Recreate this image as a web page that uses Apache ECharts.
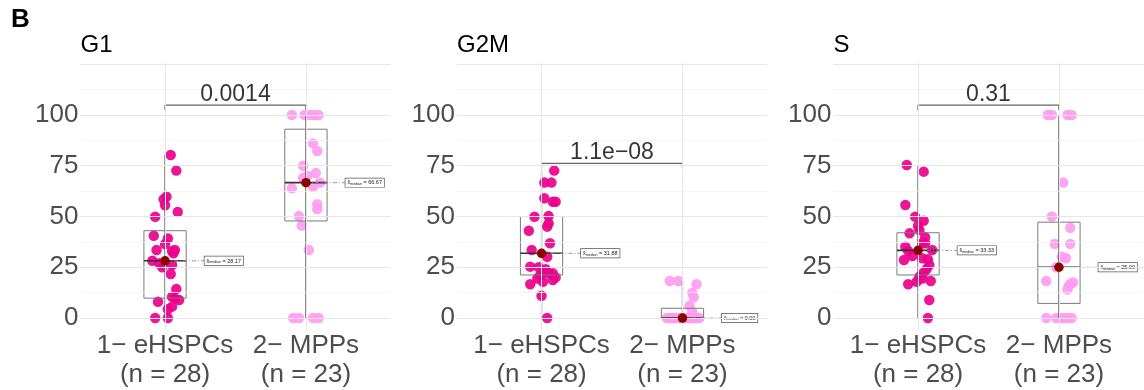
<!DOCTYPE html>
<html>
<head>
<meta charset="utf-8">
<title>Cell-cycle phase by population</title>
<script src="https://cdn.jsdelivr.net/npm/echarts@6/dist/echarts.min.js"></script>
<style>
  html, body { margin: 0; padding: 0; background: #ffffff; }
  #chart { width: 1144px; height: 390px; }
</style>
</head>
<body>
<div id="chart"></div>
<script>
// ---- data -------------------------------------------------------------
const panelTitles = ['G1', 'G2M', 'S'];
const groupLabels = ['1\u2212 eHSPCs', '2\u2212 MPPs'];
const groupCounts = [28, 23];
const pValues = ['0.0014', '1.1e\u221208', '0.31'];
const gridValues = [0, 12.5, 25, 37.5, 50, 62.5, 75, 87.5, 100, 112.5, 125];
const tickValues = [0, 25, 50, 75, 100];

// % of cells per sample; jitter = horizontal spread of each dot (axis units)
const g1Ehspc = [80.3, 72.6, 59.8, 58.5, 55.5, 52.2, 49.9, 40.5, 39.2, 36.4, 33.5, 33.5, 33.0, 31.9,
  28.2, 27.0, 26.1, 25.0, 21.7, 14.3, 10.5, 9.5, 8.9, 8.0, 5.6, 4.3, 0, 0];
const g1EhspcJitter = [0.04, 0.08, 0.01, -0.01, 0, 0.09, -0.07, -0.08, 0.02, 0, -0.06, 0.07, 0.05, 0.06,
  -0.09, -0.04, 0.05, -0.02, 0.04, 0.08, 0.05, 0.07, 0.10, -0.05, 0.05, 0.02, -0.07, 0.02];
const g1Mpp = [100, 100, 100, 100, 100, 86.0, 82.3, 75.0, 71.4, 70.0, 69.0, 66.67, 64.7, 63.9,
  56.0, 53.7, 50.2, 45.5, 33.5, 0, 0, 0, 0];
const g1MppJitter = [-0.10, -0.01, 0.03, 0.06, 0.09, 0.05, 0.08, -0.02, 0.07, 0.01, -0.02, 0.10, 0.05, -0.10,
  0.08, 0.08, -0.05, -0.03, 0.02, -0.09, -0.05, 0.05, 0.09];

const g2mEhspc = [72.6, 66.7, 66.7, 59.0, 57.3, 57.3, 50.2, 49.9, 46.6, 45.0, 43.0, 36.8, 33.5, 30.2,
  25.3, 25.0, 24.0, 22.8, 22.0, 22.0, 21.0, 20.0, 19.5, 18.7, 17.9, 16.6, 11.0, 0];
const g2mEhspcJitter = [0.09, 0.02, 0.07, 0.02, 0.08, 0.10, 0.05, -0.05, 0.05, 0.04, -0.09, 0.06, -0.07, 0.04,
  -0.08, -0.02, 0.03, 0.01, 0.05, 0.08, -0.01, 0.10, -0.03, 0.08, 0.01, -0.08, 0, 0.04];
const g2mMpp = [18.2, 18.2, 16.6, 12.5, 10.2, 6.1, 3.1, 0, 0, 0, 0, 0, 0, 0, 0, 0, 0, 0, 0, 0, 0, 0, 0];
const g2mMppJitter = [-0.09, -0.03, 0.10, 0.07, 0.08, 0.05, 0.07, -0.11, -0.09, -0.07, -0.06, -0.04, -0.02,
  -0.01, 0.01, 0.02, 0.04, 0.05, 0.06, 0.08, 0.09, 0.10, 0.12];

const sEhspc = [75.4, 72.1, 55.7, 49.9, 47.9, 45.3, 43.3, 41.7, 39.8, 36.8, 36.8, 35.1, 33.5, 33.0,
  30.5, 29.4, 28.9, 28.6, 26.1, 24.0, 22.3, 20.3, 19.5, 18.2, 17.9, 16.6, 8.9, 0];
const sEhspcJitter = [-0.08, 0.04, -0.09, -0.02, 0.04, 0, 0.01, -0.06, 0.05, 0.05, 0.03, -0.09, 0.10, -0.07,
  -0.04, 0.03, 0.07, -0.10, 0.08, 0.06, 0.04, 0.01, 0.03, 0.09, -0.01, -0.07, 0.08, 0.07];
const sMpp = [100, 100, 100, 100, 66.7, 50.0, 44.5, 36.5, 36.5, 30.2, 29.4, 25.0, 18.2, 17.5, 16.7, 15.8,
  14.1, 0, 0, 0, 0, 0, 0];
const sMppJitter = [-0.08, -0.05, 0.06, 0.09, 0.03, -0.05, 0.08, -0.03, 0.08, 0.02, 0.05, -0.02, -0.09, 0.10,
  0.08, 0.07, 0.06, -0.09, -0.02, 0.01, 0.03, 0.06, 0.09];

// box summaries: [lower whisker, Q1, median, Q3, upper whisker]
const g1Boxes = [[0, 9.8, 28.17, 43.0, 80.3], [0, 47.8, 66.67, 93.0, 100]];
const g2mBoxes = [[0, 21.2, 31.88, 50.0, 72.6], [0, 0, 0.00, 4.8, 18.2]];
const sBoxes = [[0, 21.2, 33.33, 42.0, 75.4], [0, 7.2, 25.00, 47.2, 100]];

// comparison bracket height per panel
const bracketLevels = [104.9, 76.2, 104.9];

// ---- layout / style ---------------------------------------------------
const panels = [
  { pts: [[g1Ehspc, g1EhspcJitter], [g1Mpp, g1MppJitter]], boxes: g1Boxes },
  { pts: [[g2mEhspc, g2mEhspcJitter], [g2mMpp, g2mMppJitter]], boxes: g2mBoxes },
  { pts: [[sEhspc, sEhspcJitter], [sMpp, sMppJitter]], boxes: sBoxes }
];
const gridLefts = [80.5, 457, 833.5];
const groupColors = ['#ec008c', '#ff9cf0'];
const FONT = '"Liberation Sans", Arial, Helvetica, sans-serif';
const BOX_HALF = 0.15;
const LABEL_SHIFT = 0.28;

const chart = echarts.init(document.getElementById('chart'), null, { renderer: 'canvas' });

const grids = [], xAxes = [], yAxes = [], series = [], titles = [];

titles.push({ text: 'B', left: 11, top: 7, padding: 0,
  textStyle: { fontFamily: FONT, fontSize: 26, fontWeight: 'bold', color: '#000' } });

panels.forEach((panel, p) => {
  grids.push({ left: gridLefts[p], top: 63, width: 310, height: 267, containLabel: false });
  titles.push({ text: panelTitles[p], left: gridLefts[p], top: 33, padding: 0,
    textStyle: { fontFamily: FONT, fontSize: 24, fontWeight: 'normal', color: '#000' } });

  xAxes.push({
    type: 'value', gridIndex: p, min: 0.4, max: 2.6,
    axisLine: { show: false }, axisTick: { show: false }, splitLine: { show: false },
    axisLabel: {
      customValues: [1, 2], margin: 1,
      fontFamily: FONT, fontSize: 26, color: '#4d4d4d', lineHeight: 29,
      formatter: v => groupLabels[Math.round(v) - 1] + '\n(n = ' + groupCounts[Math.round(v) - 1] + ')'
    }
  });
  yAxes.push({
    type: 'value', gridIndex: p, min: -5.9, max: 125.6,
    axisLine: { show: false }, axisTick: { show: false }, splitLine: { show: false },
    axisLabel: { customValues: tickValues, margin: 2, fontFamily: FONT, fontSize: 26, color: '#4d4d4d' }
  });

  // background grid lines
  const gl = gridValues.map(v => ({
    yAxis: v,
    lineStyle: { color: v % 25 === 0 ? '#e6e6e6' : '#f1f1f1', width: v % 25 === 0 ? 1 : 0.8, type: 'solid' }
  }));
  [1, 2].forEach(x => gl.push({ xAxis: x, lineStyle: { color: '#e6e6e6', width: 1, type: 'solid' } }));
  series.push({
    type: 'scatter', xAxisIndex: p, yAxisIndex: p, data: [], silent: true, z: 0,
    markLine: { silent: true, symbol: 'none', label: { show: false }, animation: false, data: gl }
  });

  // jittered sample dots
  panel.pts.forEach(([vals, jit], g) => {
    series.push({
      type: 'scatter', xAxisIndex: p, yAxisIndex: p, z: 2,
      symbolSize: 10.5,
      itemStyle: { color: groupColors[g], opacity: 0.92 },
      data: vals.map((v, i) => [g + 1 + jit[i], v])
    });
  });

  // boxes + whiskers
  series.push({
    type: 'custom', xAxisIndex: p, yAxisIndex: p, z: 3, silent: true,
    data: panel.boxes.map((b, g) => [g + 1].concat(b)),
    renderItem: (params, api) => {
      const x = api.value(0);
      const cx = api.coord([x, 0])[0];
      const l = api.coord([x - BOX_HALF, 0])[0];
      const r = api.coord([x + BOX_HALF, 0])[0];
      const yLo = api.coord([x, api.value(1)])[1];
      const yQ1 = api.coord([x, api.value(2)])[1];
      const yMed = api.coord([x, api.value(3)])[1];
      const yQ3 = api.coord([x, api.value(4)])[1];
      const yHi = api.coord([x, api.value(5)])[1];
      return {
        type: 'group', children: [
          { type: 'line', shape: { x1: cx, y1: yLo, x2: cx, y2: yHi },
            style: { stroke: '#5a5a5a', lineWidth: 1.3 } },
          { type: 'rect', shape: { x: l, y: yQ3, width: r - l, height: yQ1 - yQ3 },
            style: { fill: 'none', stroke: '#7a7a7a', lineWidth: 1 } },
          { type: 'line', shape: { x1: l, y1: yMed, x2: r, y2: yMed },
            style: { stroke: '#333', lineWidth: 1.6 } }
        ]
      };
    }
  });

  // median annotation
  series.push({
    type: 'custom', xAxisIndex: p, yAxisIndex: p, z: 4, silent: true,
    data: panel.boxes.map((b, g) => [g + 1, b[2]]),
    renderItem: (params, api) => {
      const x = api.value(0), m = api.value(1);
      const a = api.coord([x, m]);
      const e = api.coord([x + LABEL_SHIFT, m]);
      return {
        type: 'group', children: [
          { type: 'line', shape: { x1: a[0], y1: a[1], x2: e[0], y2: e[1] },
            style: { stroke: '#8c8c8c', lineWidth: 0.9, lineDash: [4, 2, 1, 2] } },
          { type: 'text', x: e[0], y: e[1],
            style: {
              text: '{h|x\u0302}{s|median}{h| = ' + m.toFixed(2) + '}',
              x: 0, y: 0, align: 'left', verticalAlign: 'middle',
              backgroundColor: '#fff', borderColor: '#555', borderWidth: 0.7,
              padding: [1.5, 2, 1, 2],
              rich: {
                h: { fontFamily: FONT, fontSize: 5.5, fill: '#222', color: '#222' },
                s: { fontFamily: FONT, fontSize: 3.6, fill: '#222', color: '#222', verticalAlign: 'bottom' }
              }
            } }
        ]
      };
    }
  });

  // median dots
  series.push({
    type: 'scatter', xAxisIndex: p, yAxisIndex: p, z: 5, silent: true,
    symbolSize: 9.5, itemStyle: { color: '#8b0000', opacity: 1 },
    data: panel.boxes.map((b, g) => [g + 1, b[2]])
  });

  // comparison bracket with p-value
  const L = bracketLevels[p];
  series.push({
    type: 'line', xAxisIndex: p, yAxisIndex: p, z: 3, silent: true,
    symbol: 'none', lineStyle: { color: '#666', width: 1.3 },
    data: [[1, L - 2.4], [1, L], [2, L], [2, L - 2.4]]
  });
  series.push({
    type: 'scatter', xAxisIndex: p, yAxisIndex: p, z: 6, silent: true, symbolSize: 0,
    data: [{ value: [1.5, L], label: { show: true, position: 'top', distance: -1,
      formatter: pValues[p], fontFamily: FONT, fontSize: 23, color: '#000' } }]
  });
});

chart.setOption({
  backgroundColor: '#ffffff',
  animation: false,
  title: titles,
  grid: grids,
  xAxis: xAxes,
  yAxis: yAxes,
  series: series
});
</script>
</body>
</html>
